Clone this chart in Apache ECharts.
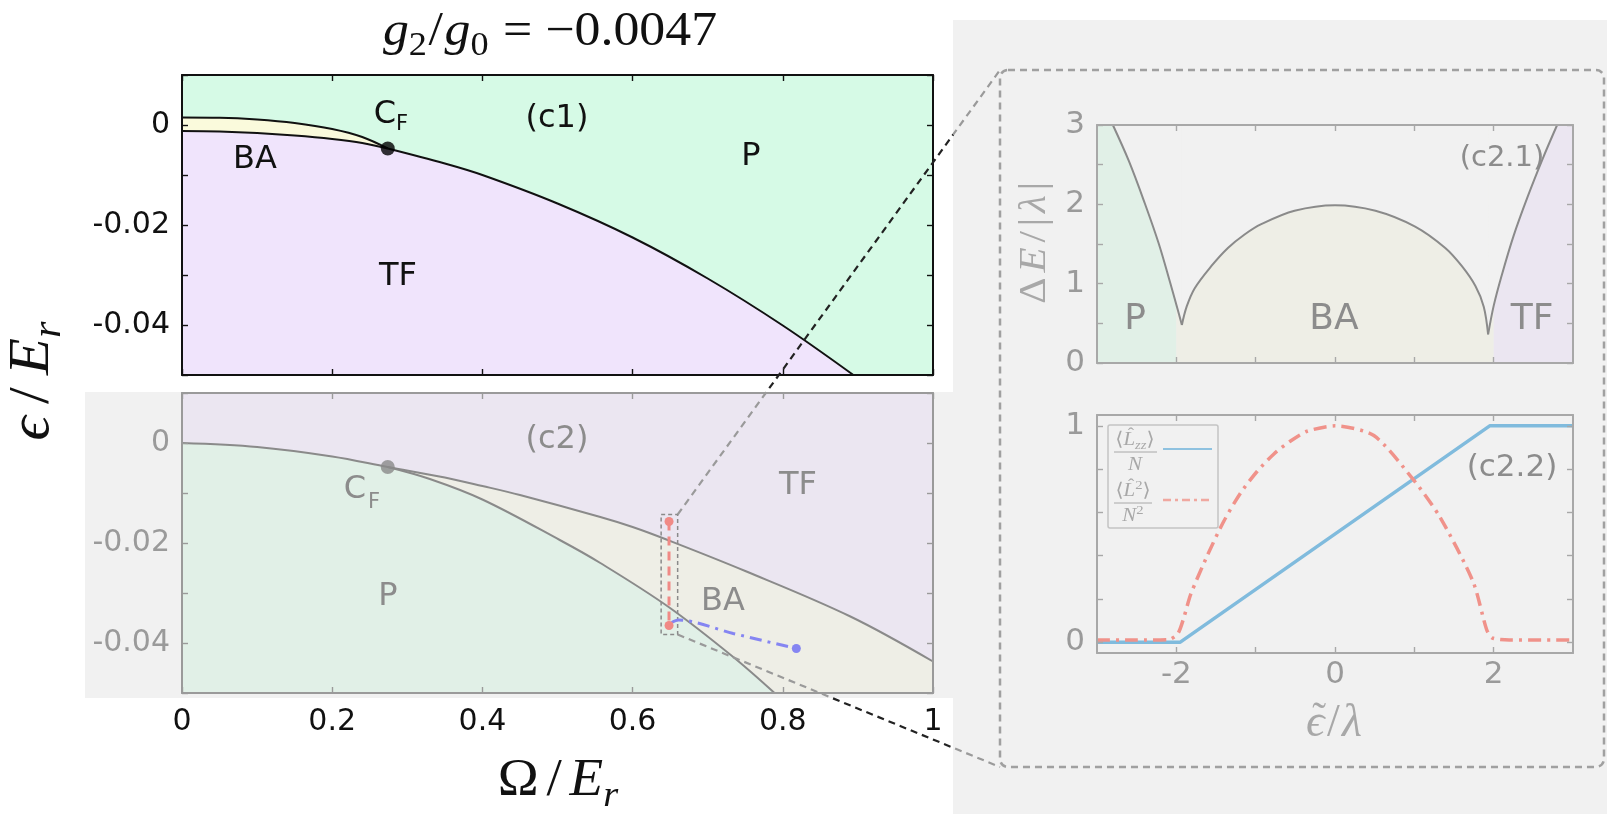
<!DOCTYPE html>
<html>
<head>
<meta charset="utf-8">
<script src="https://cdn.jsdelivr.net/npm/echarts@6/dist/echarts.min.js"></script>
<style>
  html, body { margin: 0; padding: 0; background: #ffffff; }
  #chart { width: 1607px; height: 814px; }
</style>
</head>
<body>
<div id="chart"></div>
<script>
// ---------------- data ----------------
// (c1) phase boundaries in the (Ω/E_r, ε/E_r) plane
const c1BAUpper = [[0,0.0015],[0.05,0.00145],[0.1,0.0011],[0.15,0.0004],[0.2,-0.0008],[0.24,-0.0024],[0.274,-0.0047]];
const c1BALower = [[0,-0.0012],[0.05,-0.0013],[0.1,-0.0016],[0.15,-0.0021],[0.2,-0.0028],[0.24,-0.0036],[0.274,-0.0047]];
const c1TFP = [[0.274,-0.0047],[0.35,-0.0077],[0.4,-0.0100],[0.5,-0.0157],[0.6,-0.0225],[0.7,-0.0307],[0.8,-0.0401],[0.894,-0.05]];
const c1CF = [0.274,-0.0047];

// (c2) phase boundaries
const c2TFBA = [[0,0],[0.1,-0.0008],[0.2,-0.0027],[0.274,-0.0048],[0.35,-0.0069],[0.4,-0.0086],[0.45,-0.0104],[0.557,-0.0148],[0.6,-0.0168],[0.645,-0.0193],[0.75,-0.0256],[0.89,-0.0347],[1.0,-0.0437]];
const c2PBA = [[0.274,-0.0048],[0.33,-0.0072],[0.4,-0.0113],[0.503,-0.0194],[0.557,-0.0240],[0.648,-0.0328],[0.734,-0.0428],[0.789,-0.05]];
const c2CF = [0.274,-0.0048];
const c2Sweep = [[0.6485,-0.0157],[0.6485,-0.0365]];
const c2Path = [[0.652,-0.0359],[0.661,-0.0354],[0.734,-0.0381],[0.818,-0.0411]];
const c2ZoomOmega = [0.638, 0.660];
const c2ZoomEps = [-0.0143, -0.0383];

// (c2.1) excitation gap ΔE/|λ| vs ε̃/λ
const gapLeft = [[-2.80,3.0],[-2.60,2.55],[-2.40,2.02],[-2.22,1.50],[-2.08,1.02],[-1.99,0.70],[-1.93,0.48]];
const gapArc = [[-1.93,0.48],[-1.87,0.71],[-1.77,0.94],[-1.56,1.22],[-1.35,1.45],[-1.14,1.62],[-0.93,1.75],[-0.51,1.92],[0,1.99],[0.51,1.92],[1.01,1.72],[1.39,1.45],[1.60,1.22],[1.77,0.97],[1.875,0.71],[1.93,0.36]];
const gapRight = [[1.93,0.36],[2.00,0.72],[2.10,1.10],[2.25,1.60],[2.43,2.10],[2.62,2.58],[2.80,3.0]];
const c21Edges = [-3, -2, 2, 3];
const c21Phases = ['P', 'BA', 'TF'];

// (c2.2) order parameters
const LzzCurve = [[-3,0],[-1.95,0],[1.95,1],[3,1]];
const L2Curve = [[-3,0.01],[-2.5,0.01],[-2.1,0.012],[-1.98,0.04],[-1.9,0.12],[-1.82,0.22],[-1.61,0.40],[-1.40,0.56],[-1.19,0.69],[-0.98,0.79],[-0.77,0.87],[-0.56,0.93],[-0.35,0.975],[0,1.0],[0.49,0.955],[0.99,0.75],[1.32,0.58],[1.74,0.28],[1.91,0.06],[1.98,0.02],[2.2,0.01],[3,0.01]];

// tick positions and labels
const omegaTicks = [0, 0.2, 0.4, 0.6, 0.8, 1];
const epsTicks = [-0.05, -0.04, -0.03, -0.02, -0.01, 0, 0.01];
const epsLabels = [-0.04, -0.02, 0];
const gapXTicks = [-2, -1, 0, 1, 2];
const gapYTicks = [0, 0.5, 1, 1.5, 2, 2.5, 3];
const gapYLabels = [0, 1, 2, 3];
const ordXLabels = [-2, 0, 2];
const ordYTicks = [0, 0.2, 0.4, 0.6, 0.8, 1];
const ordYLabels = [0, 1];

// ---------------- colours ----------------
const C1 = { P: '#d6fae6', BA: '#fafadc', TF: '#f0e4fc' };
const C2 = { P: '#e1f0e7', BA: '#eeeee6', TF: '#ebe6f1' };
const PANEL = '#f1f1f1';
const FADED = '#8c8c8c';

const chart = echarts.init(document.getElementById('chart'), null, { renderer: 'canvas', width: 1607, height: 814 });

function axisPair(kind, gridIndex, min, max, ticks, labels, fmt, st) {
  const base = () => ({
    type: 'value', gridIndex, min, max, z: 8, silent: true,
    splitLine: { show: false },
    axisLine: { show: true, onZero: false, lineStyle: { color: st.frame, width: st.frameW } },
    axisTick: { show: true, inside: true, length: 6, customValues: ticks, lineStyle: { color: st.frame, width: 1.4 } }
  });
  const main = base();
  main.position = kind === 'x' ? 'bottom' : 'left';
  main.axisLabel = labels ? {
    show: true, customValues: labels, formatter: fmt, color: st.label,
    fontFamily: 'DejaVu Sans', fontSize: st.fs, margin: st.margin
  } : { show: false };
  const opp = base();
  opp.position = kind === 'x' ? 'top' : 'right';
  opp.axisLabel = { show: false };
  return [main, opp];
}

const fmtEps = v => (v === 0 ? '0' : v.toFixed(2));
const fmtPlain = v => String(v);

const stC1 = { frame: '#111', frameW: 2, label: '#111', fs: 30, margin: 12 };
const stC1x = { frame: '#111', frameW: 2, label: '#111', fs: 30, margin: 14 };
const stC2y = { frame: '#9a9a9a', frameW: 2, label: '#9a9a9a', fs: 30, margin: 12 };
const stC2x = { frame: '#9a9a9a', frameW: 2, label: '#111', fs: 30, margin: 14 };
const stIn = { frame: '#a8a8a8', frameW: 2, label: '#9a9a9a', fs: 31, margin: 12 };
const stInX = { frame: '#a8a8a8', frameW: 2, label: '#9a9a9a', fs: 31, margin: 6 };

const xAxes = [].concat(
  axisPair('x', 0, 0, 1, omegaTicks, null, null, stC1x),
  axisPair('x', 1, 0, 1, omegaTicks, omegaTicks, fmtPlain, stC2x),
  axisPair('x', 2, -3, 3, gapXTicks, null, null, stInX),
  axisPair('x', 3, -3, 3, gapXTicks, ordXLabels, fmtPlain, stInX)
);
const yAxes = [].concat(
  axisPair('y', 0, -0.05, 0.01, epsTicks, epsLabels, fmtEps, stC1),
  axisPair('y', 1, -0.05, 0.01, epsTicks, epsLabels, fmtEps, stC2y),
  axisPair('y', 2, 0, 3, gapYTicks, gapYLabels, fmtPlain, stIn),
  axisPair('y', 3, -0.05, 1.05, ordYTicks, ordYLabels, fmtPlain, stIn)
);

const SMOOTH = 0.35;
function area(axis, data, color, origin, z, smooth) {
  return {
    type: 'line', xAxisIndex: axis, yAxisIndex: axis, data, symbol: 'none',
    smooth: smooth === undefined ? SMOOTH : smooth,
    lineStyle: { width: 0, opacity: 0 }, areaStyle: { color, opacity: 1, origin },
    z, silent: true
  };
}
function curve(axis, data, color, width, type, z, smooth) {
  return {
    type: 'line', xAxisIndex: axis, yAxisIndex: axis, data, symbol: 'none',
    smooth: smooth === undefined ? SMOOTH : smooth,
    lineStyle: { color, width, type: type || 'solid' }, z, silent: true
  };
}
function dot(axis, point, color, size, z) {
  return {
    type: 'scatter', xAxisIndex: axis, yAxisIndex: axis, data: [point],
    symbol: 'circle', symbolSize: size, itemStyle: { color }, z, silent: true
  };
}

// phase strips of (c2.1): full-height bands between consecutive edges
const stripColors = { P: C2.P, BA: C2.BA, TF: C2.TF };
const gapStrips = c21Phases.map((name, i) =>
  area(4, [[c21Edges[i], 3], [c21Edges[i + 1], 3]], stripColors[name], 'start', 1, false));

// first axis index of each grid (bottom/left; the next index is top/right)
const ax = { c1: 0, c2: 2, g: 4, o: 6 };

const series = [
  // (c1)
  area(ax.c1, c1BAUpper, C1.BA, 'start', 2),
  area(ax.c1, c1BALower.concat(c1TFP.slice(1)), C1.TF, 'start', 3),
  curve(ax.c1, c1BAUpper, '#111', 2, 'solid', 5),
  curve(ax.c1, c1BALower, '#111', 2, 'solid', 5),
  curve(ax.c1, c1TFP, '#111', 2, 'solid', 5),
  dot(ax.c1, c1CF, '#000', 14, 6),
  // (c2)
  area(ax.c2, c2TFBA, C2.BA, 'start', 2),
  area(ax.c2, c2TFBA.filter(p => p[0] < c2CF[0]).concat(c2PBA), C2.P, 'start', 3),
  curve(ax.c2, c2TFBA, '#8a8a8a', 2, 'solid', 5),
  curve(ax.c2, c2PBA, '#8a8a8a', 2, 'solid', 5),
  dot(ax.c2, c2CF, '#8a8a8a', 14, 6),
  {
    type: 'line', xAxisIndex: ax.c2, yAxisIndex: ax.c2, symbol: 'none', silent: true, z: 6,
    data: [[c2ZoomOmega[0], c2ZoomEps[0]], [c2ZoomOmega[1], c2ZoomEps[0]], [c2ZoomOmega[1], c2ZoomEps[1]],
           [c2ZoomOmega[0], c2ZoomEps[1]], [c2ZoomOmega[0], c2ZoomEps[0]]],
    lineStyle: { color: '#8a8a8a', width: 1.5, type: [4, 3] }
  },
  {
    type: 'line', xAxisIndex: ax.c2, yAxisIndex: ax.c2, data: c2Sweep, silent: true, z: 7,
    symbol: 'circle', symbolSize: 9, itemStyle: { color: '#f08a86' },
    lineStyle: { color: '#f08a86', width: 3, type: [9, 6] }
  },
  {
    type: 'line', xAxisIndex: ax.c2, yAxisIndex: ax.c2, data: c2Path, silent: true, z: 7, smooth: 0.3,
    symbol: 'circle', symbolSize: (v, p) => (p.dataIndex === c2Path.length - 1 ? 9 : 0),
    itemStyle: { color: '#8585f2' },
    lineStyle: { color: '#8585f2', width: 3, type: [12, 6, 3, 6] }
  },
  // (c2.1)
  ...gapStrips,
  area(ax.g, gapLeft, PANEL, 'end', 2),
  area(ax.g, gapArc, PANEL, 'end', 2),
  area(ax.g, gapRight, PANEL, 'end', 2),
  curve(ax.g, gapLeft, '#8a8a8a', 2, 'solid', 5),
  curve(ax.g, gapArc, '#8a8a8a', 2, 'solid', 5),
  curve(ax.g, gapRight, '#8a8a8a', 2, 'solid', 5),
  // (c2.2)
  curve(ax.o, LzzCurve, '#80bbdd', 3.5, 'solid', 5, false),
  curve(ax.o, L2Curve, '#f0928a', 3.5, [13, 6, 3, 6], 6, 0.25)
];

const gridCommon = { outerBoundsMode: 'none', containLabel: false, show: true, borderWidth: 0, z: 1 };
chart.setOption({
  animation: false,
  backgroundColor: '#ffffff',
  grid: [
    Object.assign({ left: 182, top: 75, width: 751, height: 300, backgroundColor: C1.P }, gridCommon),
    Object.assign({ left: 182, top: 393, width: 751, height: 300, backgroundColor: C2.TF }, gridCommon),
    Object.assign({ left: 1097, top: 125, width: 476, height: 238, backgroundColor: PANEL }, gridCommon),
    Object.assign({ left: 1097, top: 415, width: 476, height: 238, backgroundColor: PANEL }, gridCommon)
  ],
  xAxis: xAxes,
  yAxis: yAxes,
  series
});

// ---------------- annotations ----------------
const measureCtx = document.createElement('canvas').getContext('2d');
const SERIF = '"Liberation Serif","DejaVu Serif",serif';
// pieces: [text, kind, accent, accentHeight]; kind 'i'/'r' = italic/upright,
// 'si'/'sr' = subscript, 'pi'/'pr' = superscript
function mathLabel(pieces, x, baseline, size, color, opts) {
  opts = opts || {};
  const gap = (opts.gap || 0) * size;
  const items = pieces.map(([t, k, accent, accentH]) => {
    const small = k.length === 2;
    const s = small ? size * 0.7 : size;
    const italic = k.endsWith('i');
    const font = (italic ? 'italic ' : '') + s.toFixed(1) + 'px ' + SERIF;
    measureCtx.font = font;
    const w = measureCtx.measureText(t).width;
    const shift = small ? (k[0] === 's' ? 0.2 * size : -0.38 * size) : 0;
    return { t, font, s, w, shift, accent, accentH: accentH || 0.5, italic, small };
  });
  let total = 0;
  items.forEach((it, i) => { total += it.w + (i > 0 && !it.small ? gap : 0); });
  let cx = -total / 2;
  const children = [];
  items.forEach((it, i) => {
    if (i > 0 && !it.small) cx += gap;
    children.push({ type: 'text', x: cx, y: it.shift - 0.3 * it.s, z: 30,
      style: { text: it.t, font: it.font, fill: color, align: 'left', verticalAlign: 'middle' } });
    if (it.accent) {
      children.push({ type: 'text', x: cx + it.w / 2 + (it.italic ? 0.08 * it.s : 0), y: it.shift - it.accentH * it.s, z: 30,
        style: { text: it.accent, font: (0.9 * it.s).toFixed(1) + 'px ' + SERIF, fill: color, align: 'center', verticalAlign: 'middle' } });
    }
    cx += it.w;
  });
  return { type: 'group', x, y: baseline, rotation: opts.rotation || 0, scaleX: opts.scaleX || 1, z: 30, children };
}
function label(text, x, y, size, color) {
  return { type: 'text', x, y, z: 30, silent: true,
    style: { text, fill: color, font: size + 'px "DejaVu Sans"', align: 'center', verticalAlign: 'middle' } };
}

const gfx = [];
// backdrops behind the faded panels
gfx.push({ type: 'rect', z: 0, shape: { x: 953, y: 20, width: 654, height: 794 }, style: { fill: PANEL } });
gfx.push({ type: 'rect', z: 0, shape: { x: 85, y: 392, width: 868, height: 306 }, style: { fill: PANEL } });

// zoom frame around the inset panels
gfx.push({ type: 'rect', z: 25, shape: { x: 1000, y: 70, width: 604, height: 697, r: 8 },
  style: { fill: null, stroke: '#a0a0a0', lineWidth: 2.5, lineDash: [7, 5] } });

// connectors from the selected window to the inset frame
function isFaded(px, py) {
  return (px >= 85 && px <= 953 && py >= 392 && py <= 698) || (px >= 953 && py >= 20);
}
function connector(a, b) {
  const N = 400, len = Math.hypot(b[0] - a[0], b[1] - a[1]);
  let start = 0, state = isFaded(a[0], a[1]);
  for (let i = 1; i <= N; i++) {
    const t = i / N;
    const s = isFaded(a[0] + (b[0] - a[0]) * t, a[1] + (b[1] - a[1]) * t);
    if (s !== state || i === N) {
      const x1 = a[0] + (b[0] - a[0]) * start, y1 = a[1] + (b[1] - a[1]) * start;
      const x2 = a[0] + (b[0] - a[0]) * t, y2 = a[1] + (b[1] - a[1]) * t;
      gfx.push({ type: 'line', z: 26, shape: { x1, y1, x2, y2 },
        style: { stroke: state ? '#9a9a9a' : '#222', lineWidth: 2.2, lineDash: [7, 5], lineDashOffset: start * len } });
      start = t; state = s;
    }
  }
}
const winTop = chart.convertToPixel({ gridIndex: 1 }, [c2ZoomOmega[1], c2ZoomEps[0]]);
const winBot = chart.convertToPixel({ gridIndex: 1 }, [c2ZoomOmega[1], c2ZoomEps[1]]);
connector(winTop, [1000, 70]);
connector(winBot, [1000, 767]);

// axis titles
gfx.push(mathLabel([['g', 'i'], ['2', 'sr'], ['/', 'r'], ['g', 'i'], ['0', 'sr'], [' = −0.0047', 'r']], 550, 47, 48, '#111', { scaleX: 1.08, gap: 0.03 }));
gfx.push(mathLabel([['ϵ', 'i'], ['/', 'r'], ['E', 'i'], ['r', 'si']], 50, 381, 56, '#111', { rotation: Math.PI / 2, scaleX: 1.08, gap: 0.2 }));
gfx.push(mathLabel([['Ω', 'r'], ['/', 'r'], ['E', 'i'], ['r', 'si']], 558, 797, 52, '#111', { scaleX: 1.06, gap: 0.14 }));
gfx.push(mathLabel([['Δ', 'r'], ['E', 'i'], ['/', 'r'], ['|', 'r'], ['λ', 'i'], ['|', 'r']], 1046, 243, 38, '#a8a8a8', { rotation: Math.PI / 2, scaleX: 1.08, gap: 0.12 }));
gfx.push(mathLabel([['ϵ', 'i', '˜', 0.39], ['/', 'r'], ['λ', 'i']], 1334, 738, 46, '#a8a8a8', { gap: 0.05 }));

// phase labels, (c1)
gfx.push(label('C', 385, 115, 32, '#111'), label('F', 402, 125, 21, '#111'));
gfx.push(label('(c1)', 557, 119, 32, '#111'), label('P', 751, 157, 32, '#111'));
gfx.push(label('BA', 255, 160, 32, '#111'), label('TF', 398, 277, 32, '#111'));
// phase labels, (c2)
gfx.push(label('(c2)', 557, 440, 32, FADED), label('TF', 798, 486, 32, FADED));
gfx.push(label('C', 355, 490, 32, FADED), label('F', 374, 503, 21, FADED));
gfx.push(label('P', 388, 597, 32, FADED), label('BA', 723, 602, 32, FADED));
// (c2.1) and (c2.2)
gfx.push(label('P', 1135, 320, 36, FADED), label('BA', 1334, 320, 36, FADED), label('TF', 1532, 320, 36, FADED));
gfx.push(label('(c2.1)', 1502, 158, 29, FADED), label('(c2.2)', 1512, 468, 31, FADED));

// legend of (c2.2)
const LEG = '#a8a8a8';
gfx.push({ type: 'rect', z: 27, shape: { x: 1108, y: 425, width: 110, height: 103, r: 2 },
  style: { fill: PANEL, stroke: '#c4c4c4', lineWidth: 1.5 } });
gfx.push(mathLabel([['⟨', 'r'], ['L', 'i', 'ˆ', 0.62], ['zz', 'si'], ['⟩', 'r']], 1135, 446, 19, LEG, { scaleX: 1.1 }));
gfx.push({ type: 'line', z: 30, shape: { x1: 1114, y1: 452, x2: 1157, y2: 452 }, style: { stroke: LEG, lineWidth: 1 } });
gfx.push(mathLabel([['N', 'i']], 1135, 471, 19, LEG, { scaleX: 1.1 }));
gfx.push({ type: 'line', z: 30, shape: { x1: 1163, y1: 449, x2: 1212, y2: 449 }, style: { stroke: '#8fc2e0', lineWidth: 2 } });
gfx.push(mathLabel([['⟨', 'r'], ['L', 'i', 'ˆ', 0.62], ['2', 'pr'], ['⟩', 'r']], 1133, 497, 19, LEG, { scaleX: 1.1 }));
gfx.push({ type: 'line', z: 30, shape: { x1: 1114, y1: 503, x2: 1152, y2: 503 }, style: { stroke: LEG, lineWidth: 1 } });
gfx.push(mathLabel([['N', 'i'], ['2', 'pr']], 1133, 522, 19, LEG, { scaleX: 1.1 }));
gfx.push({ type: 'line', z: 30, shape: { x1: 1163, y1: 500, x2: 1210, y2: 500 },
  style: { stroke: '#f0a8a0', lineWidth: 2.5, lineDash: [8, 4, 3, 4] } });

chart.setOption({ graphic: { elements: gfx } });
</script>
</body>
</html>
